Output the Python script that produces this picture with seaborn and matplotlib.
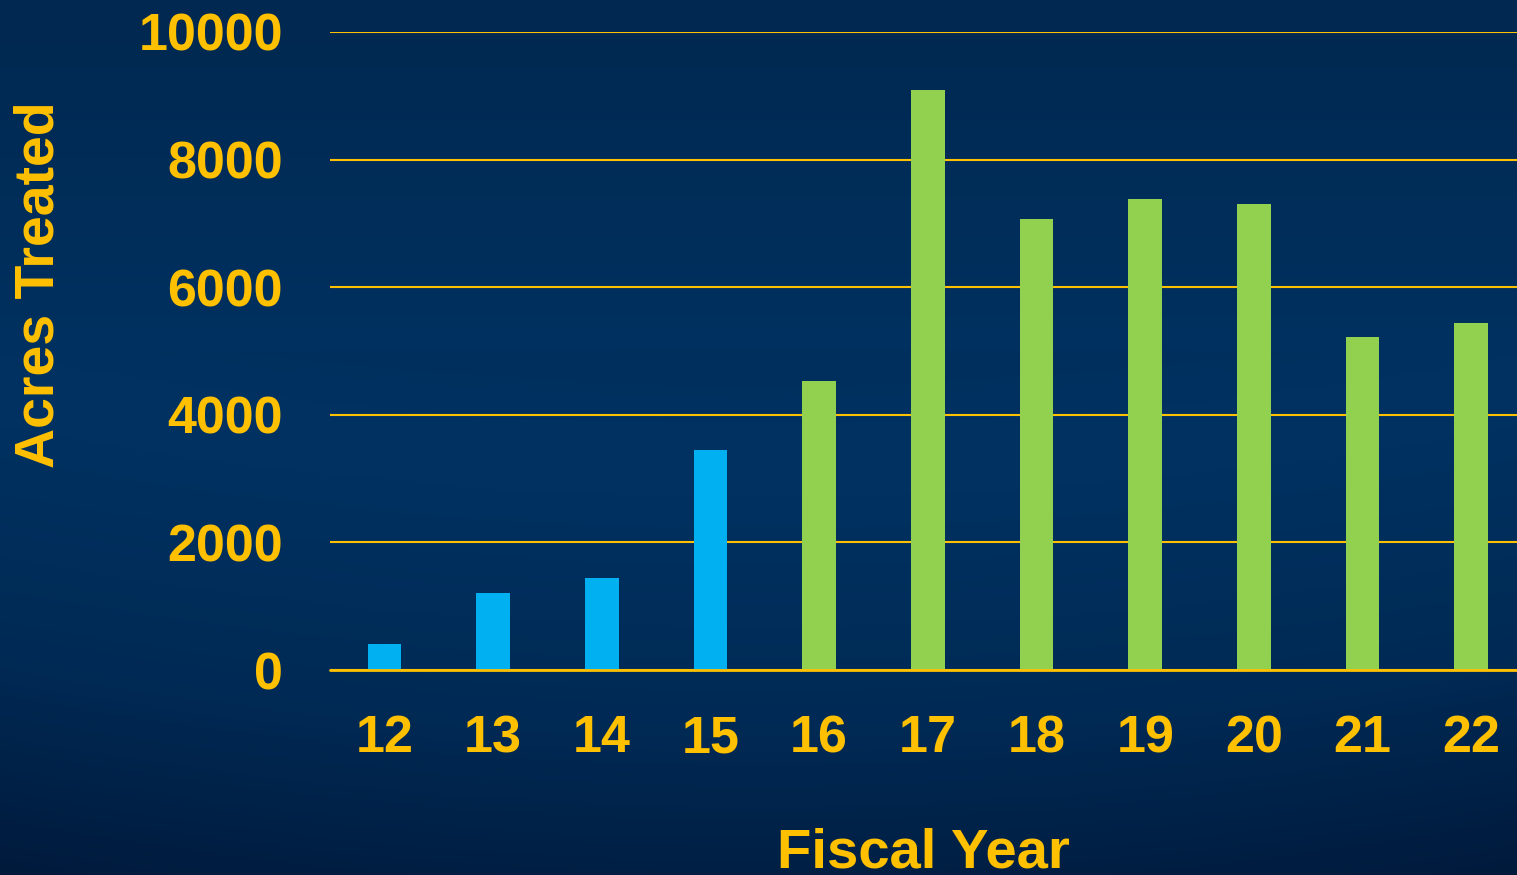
import numpy as np
import pandas as pd
import matplotlib
matplotlib.use("Agg")
import matplotlib.pyplot as plt
from matplotlib.colors import LinearSegmentedColormap
import seaborn as sns

# data
years = ["12", "13", "14", "15", "16", "17", "18", "19", "20", "21", "22"]
acres = [400, 1200, 1440, 3450, 4530, 9090, 7070, 7380, 7300, 5220, 5440]
phase = ["early"] * 4 + ["late"] * 7

gold = "#FFC000"
bar_colors = {"early": "#00B0F0", "late": "#92D050"}

sns.set_style("dark")
plt.rcParams["font.family"] = ["Liberation Sans", "DejaVu Sans"]
plt.rcParams["font.weight"] = "bold"

df = pd.DataFrame({"Year": years, "Acres": acres, "Phase": phase})

fig = plt.figure(figsize=(15.17, 8.75), dpi=100)

# navy gradient background
bg = fig.add_axes([0, 0, 1, 1], zorder=-5)
cmap = LinearSegmentedColormap.from_list(
    "navy", [(0.0, "#002850"), (0.45, "#003262"), (0.75, "#002A55"), (1.0, "#001A3C")])
yy = np.linspace(0, 1, 300)[:, None]
xx = np.linspace(-1, 1, 300)[None, :]
grad = yy - 0.08 * (1 - xx ** 2) * (yy > 0.4)
bg.imshow(grad, cmap=cmap, aspect="auto", extent=[0, 1, 1, 0], vmin=0, vmax=1)
bg.set_axis_off()

ax = fig.add_axes([330 / 1517, 1 - 670 / 875, 1 - 330 / 1517, 638 / 875])
ax.set_facecolor("none")

sns.barplot(data=df, x="Year", y="Acres", hue="Phase", palette=bar_colors,
            dodge=False, width=0.31, legend=False, ax=ax, zorder=3,
            saturation=1, linewidth=0)

ax.set_xlim(-0.5, 10.42)
ax.set_ylim(0, 10000)
ax.set_yticks([0, 2000, 4000, 6000, 8000, 10000])
ax.grid(axis="y", color=gold, linewidth=1.5, zorder=1)
ax.grid(axis="x", visible=False)
ax.axhline(0, color=gold, linewidth=2, zorder=4, clip_on=False)
for s in ax.spines.values():
    s.set_visible(False)

ax.tick_params(axis="both", length=0, labelcolor=gold, labelsize=37.5)
ax.tick_params(axis="y", pad=34)
ax.tick_params(axis="x", pad=32)
for lab in ax.get_xticklabels() + ax.get_yticklabels():
    lab.set_fontweight("bold")

ax.set_xlabel("Fiscal Year", color=gold, fontsize=40.5, fontweight="bold")
ax.xaxis.set_label_coords(0.5, (670 - 868) / 638)
ax.xaxis.label.set_va("baseline")
ax.set_ylabel("")
fig.text(40 / 1517, 1 - 285 / 875, "Acres Treated", rotation=90, color=gold,
         fontsize=40, fontweight="bold", ha="center", va="center")

fig.savefig("out.png", dpi=100)
